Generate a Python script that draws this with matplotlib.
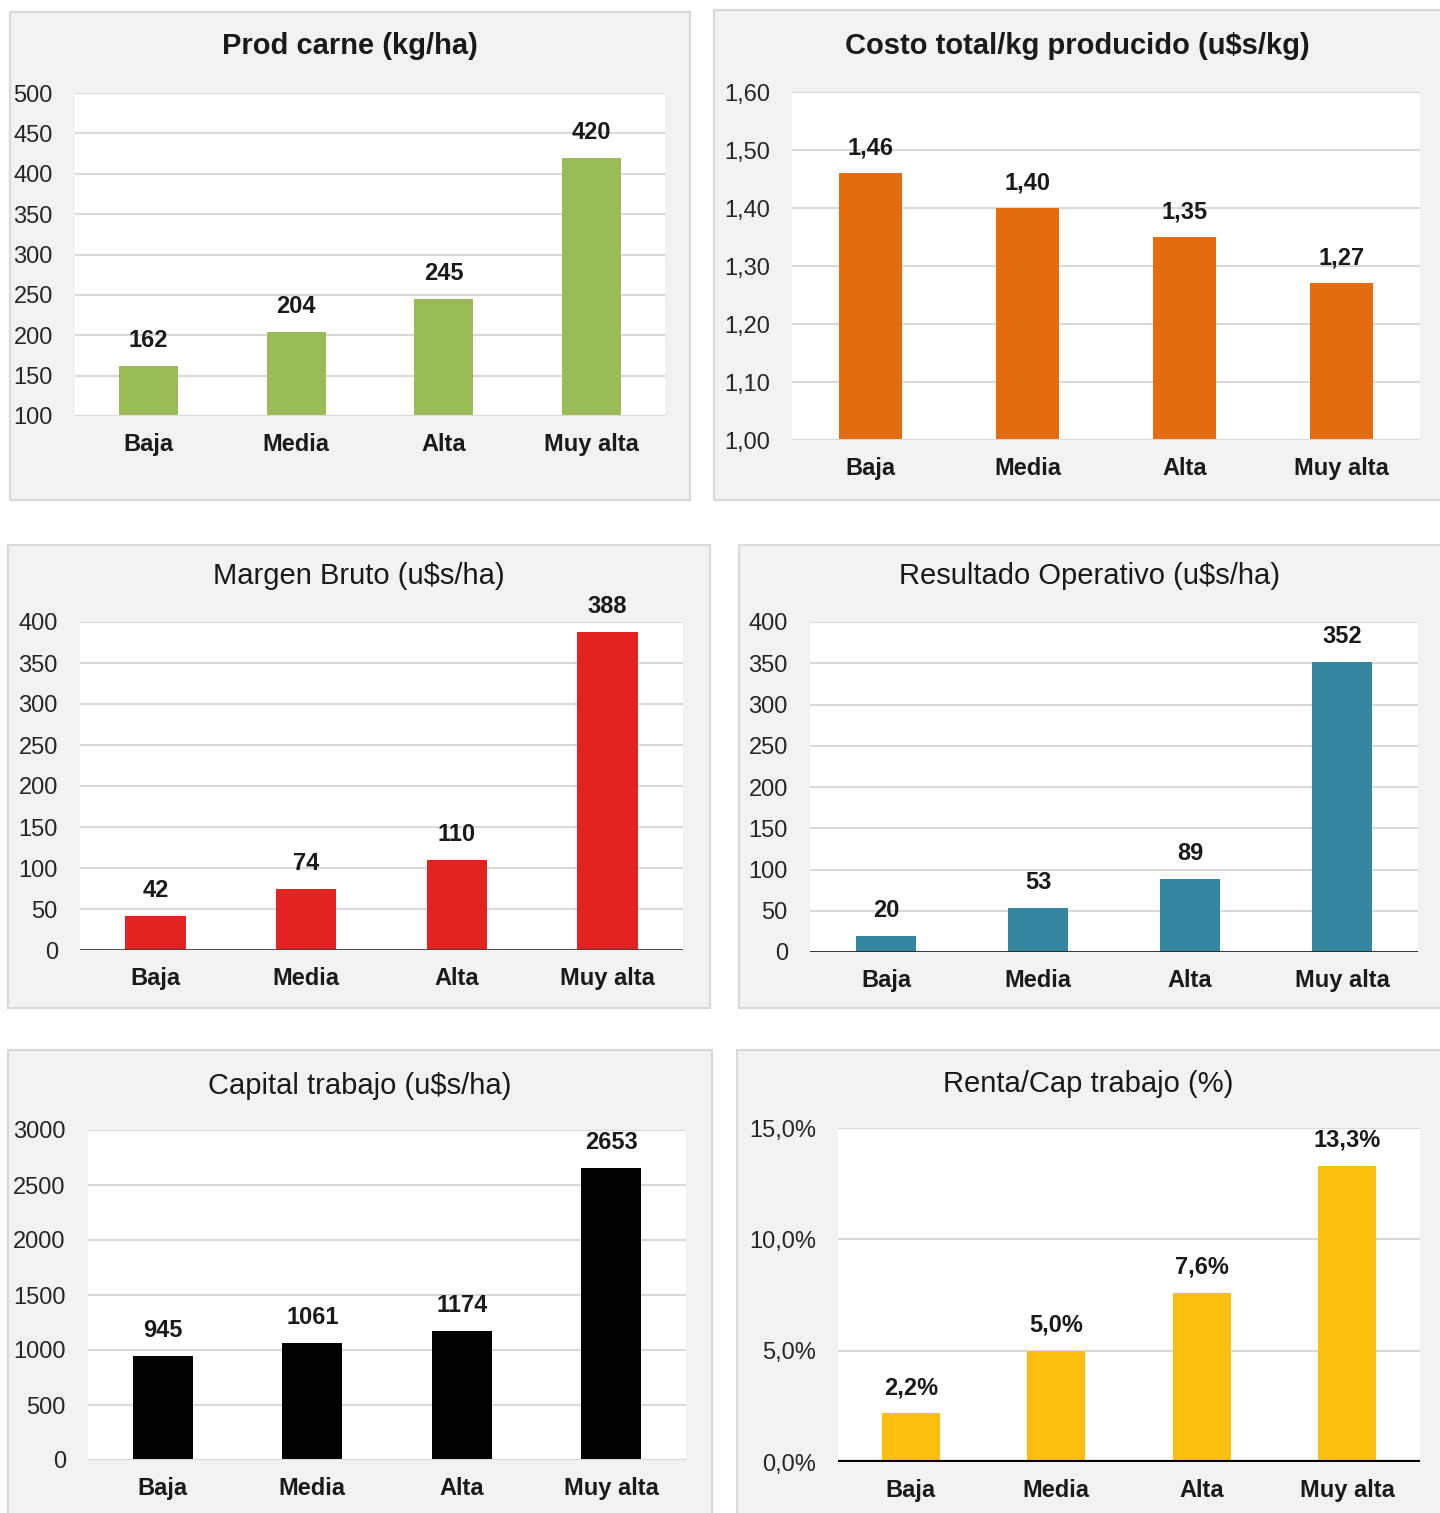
import numpy as np
import matplotlib
matplotlib.use("Agg")
import matplotlib.pyplot as plt
from matplotlib.patches import Rectangle
from matplotlib.ticker import FuncFormatter

# ----------------------------------------------------------------
# Datos por categoría de productividad
# ----------------------------------------------------------------
categorias = ["Baja", "Media", "Alta", "Muy alta"]

prod_carne = [162, 204, 245, 420]          # kg/ha
costo_kg = [1.46, 1.40, 1.35, 1.27]        # u$s/kg
margen_bruto = [42, 74, 110, 388]          # u$s/ha
resultado_op = [20, 53, 89, 352]           # u$s/ha
capital_trabajo = [945, 1061, 1174, 2653]  # u$s/ha
renta_cap = [2.2, 5.0, 7.6, 13.3]          # %

W, H = 1440, 1513
plt.rcParams['font.family'] = ['Liberation Sans', 'DejaVu Sans']
plt.rcParams['text.color'] = '#1a1a1a'

fig = plt.figure(figsize=(W / 100, H / 100), dpi=100)


def px_rect(x0, y0, x1, y1):
    # pixel box (top-left origin) -> figure fraction [left, bottom, w, h]
    return [x0 / W, 1 - y1 / H, (x1 - x0) / W, (y1 - y0) / H]


def fmt_int(v):
    return f"{v:.0f}"


def fmt_dec(v):
    return f"{v:.2f}".replace('.', ',')


def fmt_pct(v):
    return f"{v:.1f}%".replace('.', ',')


def panel(box, area, title_y, title, bold, valores, color, ylim, step, fmt,
          base_color='#d9d9d9', base_lw=1.5):
    bx = px_rect(*box)
    fig.patches.append(Rectangle((bx[0], bx[1]), bx[2], bx[3],
                                 transform=fig.transFigure,
                                 facecolor='#f2f2f2', edgecolor='#d9d9d9',
                                 lw=1.5, zorder=-1))
    fig.text((box[0] + min(box[2], W)) / 2 / W, 1 - title_y / H, title,
             ha='center', va='center', fontsize=21,
             fontweight='bold' if bold else 'normal')

    ax = fig.add_axes(px_rect(*area))
    ax.set_facecolor('white')
    x = np.arange(len(categorias))
    ax.bar(x, valores, width=0.4, color=color, zorder=3)
    ax.set_xlim(-0.5, len(categorias) - 0.5)
    ax.set_ylim(*ylim)
    ax.set_yticks(np.arange(ylim[0], ylim[1] + step / 2, step))
    ax.yaxis.set_major_formatter(FuncFormatter(lambda v, p: fmt(v)))
    ax.set_xticks(x)
    ax.set_xticklabels(categorias, fontweight='bold')
    ax.tick_params(axis='y', length=0, pad=16, labelsize=17, labelcolor='#262626')
    ax.tick_params(axis='x', length=0, pad=12, labelsize=17, labelcolor='#1a1a1a')
    ax.yaxis.grid(True, color='#d9d9d9', lw=1.5, zorder=0)
    ax.set_axisbelow(True)
    for s in ax.spines.values():
        s.set_visible(False)
    ax.axhline(ylim[0], color=base_color, lw=base_lw, zorder=4)

    for i, v in enumerate(valores):
        ax.annotate(fmt(v), (i, v), xytext=(0, 10), textcoords='offset points',
                    ha='center', va='bottom', fontsize=17, fontweight='bold')
    return ax


panel((10, 12, 690, 500), (75, 93, 665, 416), 46, "Prod carne (kg/ha)", True,
      prod_carne, '#9bbb59', (100, 500), 50, fmt_int)
panel((714, 10, 1445, 500), (792, 92, 1420, 440), 46,
      "Costo total/kg producido (u$s/kg)", True,
      costo_kg, '#e36c0f', (1.0, 1.6), 0.1, fmt_dec)
panel((8, 545, 710, 1008), (80, 622, 683, 950), 576, "Margen Bruto (u$s/ha)", False,
      margen_bruto, '#e32322', (0, 400), 50, fmt_int, '#404040', 2.0)
panel((739, 545, 1445, 1008), (810, 622, 1418, 952), 576,
      "Resultado Operativo (u$s/ha)", False,
      resultado_op, '#33869e', (0, 400), 50, fmt_int, '#262626', 2.0)
panel((8, 1050, 712, 1520), (88, 1130, 686, 1460), 1086, "Capital trabajo (u$s/ha)", False,
      capital_trabajo, '#000000', (0, 3000), 500, fmt_int)
panel((737, 1050, 1445, 1520), (838, 1128, 1420, 1462), 1084, "Renta/Cap trabajo (%)", False,
      renta_cap, '#fbbf10', (0, 15), 5, fmt_pct, '#000000', 3.0)

fig.savefig("out.png", dpi=100, facecolor='white')
